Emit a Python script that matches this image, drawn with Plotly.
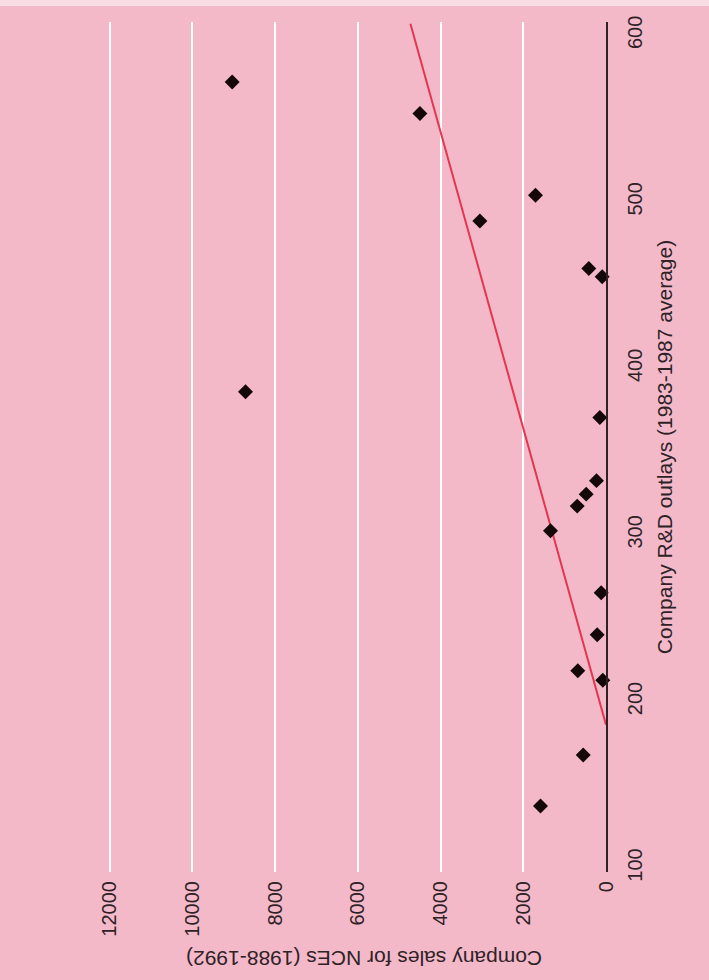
import plotly.graph_objects as go

# Company sales of new chemical entities (1988-1992) vs. R&D outlays (1983-1987 average)
rd_outlays = [572, 553, 504, 488.5, 460, 455, 386, 370.5, 332.6, 324.5,
              317.3, 302.5, 265.3, 240, 218.4, 212.8, 167.8, 137.2]
nce_sales = [9040, 4500, 1705, 3050, 416, 92, 8718, 150, 230, 479,
             696, 1342, 116, 213, 682, 77, 551, 1584]

# fitted regression line (sales axis, R&D axis)
fit_sales = [0, 4730]
fit_rd = [186, 607]

sales_ticks = [0, 2000, 4000, 6000, 8000, 10000, 12000]
rd_ticks = [100, 200, 300, 400, 500, 600]

pink = "#f4b9c9"
ink = "#2e2226"
font = "Liberation Sans, Arial, Helvetica, sans-serif"

fig = go.Figure()

fig.add_trace(go.Scatter(
    x=fit_sales, y=fit_rd, mode="lines",
    line=dict(color="#e2374f", width=2),
    hoverinfo="skip", showlegend=False,
))

fig.add_trace(go.Scatter(
    x=nce_sales, y=rd_outlays, mode="markers",
    marker=dict(symbol="diamond", size=11.5, color="#140808"),
    cliponaxis=False, showlegend=False,
))

fig.update_layout(
    width=709, height=980,
    paper_bgcolor=pink, plot_bgcolor=pink,
    margin=dict(l=80, r=103, t=22, b=108),
    font=dict(family=font, color=ink),
    xaxis=dict(
        range=[12720, 0],
        tickvals=sales_ticks,
        ticktext=[str(v) for v in sales_ticks],
        tickangle=-90,
        tickfont=dict(size=20, color=ink),
        showgrid=True, gridcolor="white", gridwidth=2,
        zeroline=False, showline=False, ticks="",
        ticklabelstandoff=4,
    ),
    yaxis=dict(
        range=[97.6, 608],
        side="right",
        tickvals=rd_ticks,
        ticktext=[str(v) for v in rd_ticks],
        tickangle=-90,
        tickfont=dict(size=20, color=ink),
        showgrid=False, zeroline=False,
        showline=True, linecolor=ink, linewidth=2,
        ticks="", ticklabelstandoff=10,
        title=dict(text="Company R&D outlays (1983-1987 average)",
                   font=dict(size=21, color=ink), standoff=12),
    ),
    annotations=[dict(
        text="Company sales for NCEs (1988-1992)",
        xref="paper", yref="paper", x=0.54, y=-0.1016,
        xanchor="center", yanchor="middle",
        textangle=180, showarrow=False,
        font=dict(size=21, color=ink),
    )],
    shapes=[dict(
        type="rect", xref="paper", yref="paper",
        x0=-0.2, x1=1.3, y0=1.0 + 16 / 850, y1=1.05,
        fillcolor="#f8dde4", line=dict(width=0), layer="below",
    )],
)

fig.write_html("out.html")
